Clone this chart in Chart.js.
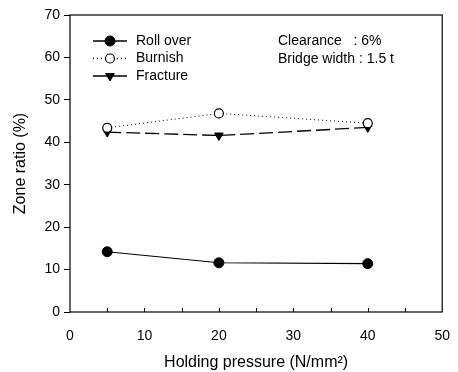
<!DOCTYPE html>
<html>
<head>
<meta charset="utf-8">
<script src="https://cdn.jsdelivr.net/npm/chart.js@4/dist/chart.umd.min.js"></script>
<style>
  html, body { margin: 0; padding: 0; background: #fff; }
  #wrap { width: 458px; height: 372px; }
</style>
</head>
<body>
<div id="wrap"><canvas id="chart" width="458" height="372"></canvas></div>
<script>
const pressure = [5, 20, 40];
const rollOver = [14.2, 11.6, 11.4];
const burnish = [43.4, 46.8, 44.5];
const fracture = [42.4, 41.6, 43.5];
const xTicks = [0, 10, 20, 30, 40, 50];
const yTicks = [0, 10, 20, 30, 40, 50, 60, 70];
const notes = ["Clearance   : 6%", "Bridge width : 1.5 t"];

const FONT = "'Liberation Sans', Arial, sans-serif";

function pts(vals) {
  return pressure.map((x, i) => ({ x: x, y: vals[i] }));
}

// frame, inward x ticks, legend and notes inside the plot
const extras = {
  id: "extras",
  afterDraw(c) {
    const ctx = c.ctx;
    const a = c.chartArea;
    const xs = c.scales.x;
    ctx.save();
    ctx.strokeStyle = "#000";
    ctx.lineWidth = 1.2;
    ctx.strokeRect(a.left, a.top, a.right - a.left, a.bottom - a.top);

    ctx.lineWidth = 1;
    for (let v = 5; v < 50; v += 5) {
      const px = Math.round(xs.getPixelForValue(v)) + 0.5;
      ctx.beginPath();
      ctx.moveTo(px, a.bottom);
      ctx.lineTo(px, a.bottom - 4);
      ctx.stroke();
    }

    ctx.font = "14px " + FONT;
    ctx.textBaseline = "middle";
    c.data.datasets.forEach((ds, i) => {
      const y = 41 + i * 17.5;
      ctx.save();
      ctx.strokeStyle = "#000";
      ctx.lineWidth = 1.3;
      ctx.setLineDash(ds.legendDash);
      ctx.beginPath();
      ctx.moveTo(93, y);
      ctx.lineTo(127, y);
      ctx.stroke();
      ctx.restore();
      ctx.fillStyle = ds.pointBackgroundColor;
      ctx.strokeStyle = ds.pointBorderColor;
      ctx.lineWidth = ds.pointBorderWidth;
      Chart.helpers.drawPoint(ctx, {
        pointStyle: ds.pointStyle,
        radius: ds.pointRadius,
        rotation: ds.pointRotation || 0,
        borderWidth: ds.pointBorderWidth
      }, 110, y);
      ctx.fillStyle = "#000";
      ctx.fillText(ds.label, 136, y);
    });
    ctx.fillStyle = "#000";
    notes.forEach((t, i) => ctx.fillText(t, 278, 41 + i * 18));
    ctx.restore();
  }
};

new Chart(document.getElementById("chart"), {
  type: "line",
  data: {
    datasets: [
      {
        label: "Roll over",
        data: pts(rollOver),
        borderColor: "#000",
        borderWidth: 1.1,
        pointStyle: "circle",
        pointRadius: 5,
        pointBackgroundColor: "#000",
        pointBorderColor: "#000",
        pointBorderWidth: 1,
        legendDash: []
      },
      {
        label: "Burnish",
        data: pts(burnish),
        borderColor: "#000",
        borderWidth: 1,
        borderDash: [1, 3],
        pointStyle: "circle",
        pointRadius: 4.5,
        pointBackgroundColor: "#fff",
        pointBorderColor: "#000",
        pointBorderWidth: 1.2,
        legendDash: [1, 3]
      },
      {
        label: "Fracture",
        data: pts(fracture),
        borderColor: "#000",
        borderWidth: 1.3,
        borderDash: [14, 5],
        pointStyle: "triangle",
        pointRotation: 180,
        pointRadius: 5,
        pointBackgroundColor: "#000",
        pointBorderColor: "#000",
        pointBorderWidth: 1,
        legendDash: []
      }
    ]
  },
  options: {
    responsive: false,
    animation: false,
    layout: { padding: { top: 15, right: 11, left: 0, bottom: 0 } },
    plugins: { legend: { display: false }, tooltip: { enabled: false } },
    scales: {
      x: {
        type: "linear",
        min: 0, max: 50,
        afterBuildTicks: s => { s.ticks = xTicks.map(v => ({ value: v })); },
        afterFit: s => { s.height = 60; },
        grid: { display: false },
        border: { display: false },
        ticks: { color: "#000", font: { family: FONT, size: 14 }, padding: 8, maxRotation: 0 },
        title: {
          display: true,
          text: "Holding pressure (N/mm\u00B2)",
          color: "#000",
          font: { family: FONT, size: 16 },
          padding: { top: 0, bottom: 0 }
        }
      },
      y: {
        min: 0, max: 70,
        afterBuildTicks: s => { s.ticks = yTicks.map(v => ({ value: v })); },
        afterFit: s => { s.width = 70; },
        grid: { drawOnChartArea: false, tickLength: 6, color: "#000", lineWidth: 1 },
        border: { display: false },
        ticks: { color: "#000", font: { family: FONT, size: 14 }, padding: 4 },
        title: {
          display: true,
          text: "Zone ratio (%)",
          color: "#000",
          font: { family: FONT, size: 16 },
          padding: { top: 11, bottom: 0 }
        }
      }
    }
  },
  plugins: [extras]
});
</script>
</body>
</html>
